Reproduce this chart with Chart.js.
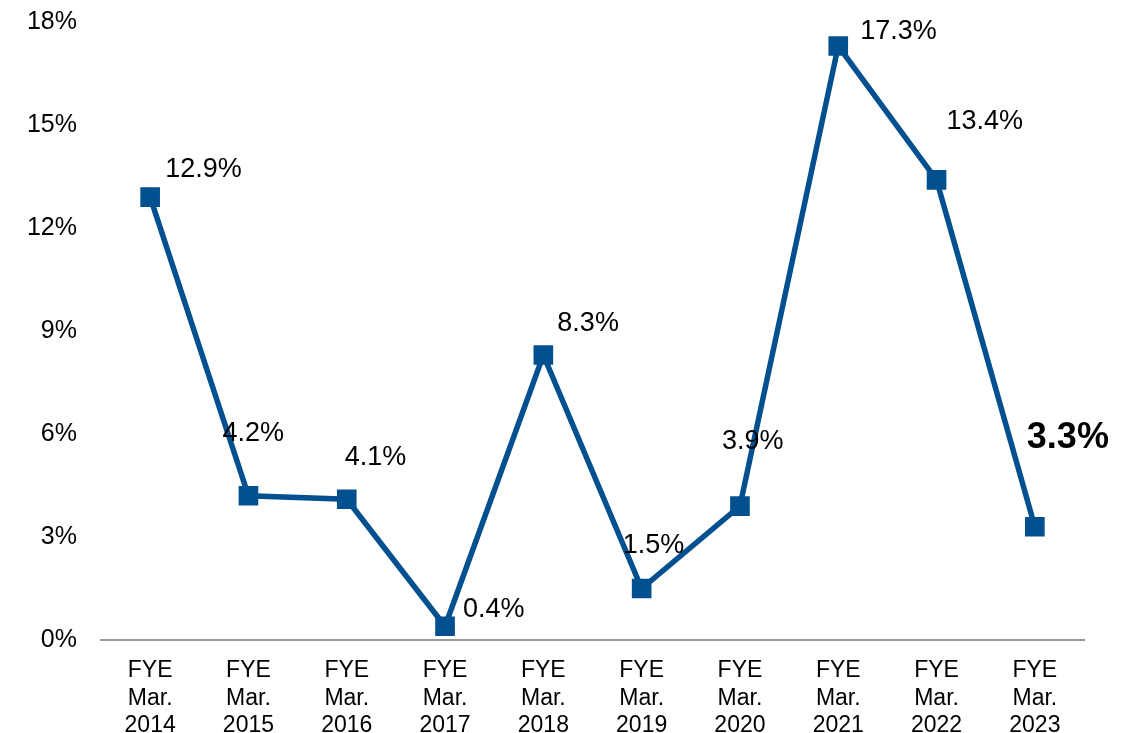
<!DOCTYPE html>
<html>
<head>
<meta charset="utf-8">
<script src="https://cdn.jsdelivr.net/npm/chart.js@4/dist/chart.umd.min.js"></script>
<style>
  html, body { margin: 0; padding: 0; background: #fff; }
  #wrap { width: 1135px; height: 733px; }
</style>
</head>
<body>
<div id="wrap"><canvas id="growthChart"></canvas></div>
<script>
const years = ['2014', '2015', '2016', '2017', '2018', '2019', '2020', '2021', '2022', '2023'];
const growth = [12.9, 4.2, 4.1, 0.4, 8.3, 1.5, 3.9, 17.3, 13.4, 3.3];
const yTicks = [0, 3, 6, 9, 12, 15, 18];

const labels = years.map(y => ['FYE', 'Mar.', y]);

// where each value label sits relative to its marker
const labelOffsets = [
    [15, -28], [-26, -62], [-2, -42], [18, -17], [14, -31],
    [-19, -43], [-18, -65], [22, -14], [10, -58], [-8, -89]
];

const valueLabels = {
    id: 'valueLabels',
    afterDatasetsDraw(chart) {
        const ctx = chart.ctx;
        const meta = chart.getDatasetMeta(0);
        ctx.save();
        ctx.fillStyle = '#000';
        ctx.textBaseline = 'middle';
        ctx.textAlign = 'left';
        meta.data.forEach((pt, i) => {
            const last = i === growth.length - 1;
            ctx.font = last ? 'bold 36px "Liberation Sans", Arial, sans-serif'
                            : '27px "Liberation Sans", Arial, sans-serif';
            const off = labelOffsets[i];
            ctx.fillText(growth[i].toFixed(1) + '%', pt.x + off[0], pt.y + off[1]);
        });
        ctx.restore();
    }
};

new Chart(document.getElementById('growthChart'), {
    type: 'line',
    data: {
        labels: labels,
        datasets: [{
            data: growth,
            borderColor: '#02508f',
            backgroundColor: '#02508f',
            borderWidth: 5.5,
            pointStyle: 'rect',
            pointRadius: 10,
            pointHoverRadius: 10,
            tension: 0
        }]
    },
    options: {
        responsive: true,
        maintainAspectRatio: false,
        animation: false,
        layout: { padding: { top: 22, right: 51, bottom: 0, left: 0 } },
        plugins: { legend: { display: false }, tooltip: { enabled: false } },
        scales: {
            x: {
                offset: true,
                grid: { display: false },
                border: { display: true, color: '#999', width: 2 },
                ticks: {
                    color: '#000',
                    maxRotation: 0,
                    padding: 9,
                    font: { family: '"Liberation Sans", Arial, sans-serif', size: 23, lineHeight: 1.2 }
                },
                afterFit(scale) { scale.height = 93; }
            },
            y: {
                min: 0,
                max: 18,
                grid: { display: false },
                border: { display: false },
                afterBuildTicks(scale) { scale.ticks = yTicks.map(v => ({ value: v })); },
                ticks: {
                    color: '#000',
                    padding: 16,
                    callback: v => v + '%',
                    font: { family: '"Liberation Sans", Arial, sans-serif', size: 25 }
                },
                afterFit(scale) {
                    scale.width = 101;
                    scale.paddingTop = 0;
                    scale.paddingBottom = 0;
                }
            }
        }
    },
    plugins: [valueLabels]
});
</script>
</body>
</html>
